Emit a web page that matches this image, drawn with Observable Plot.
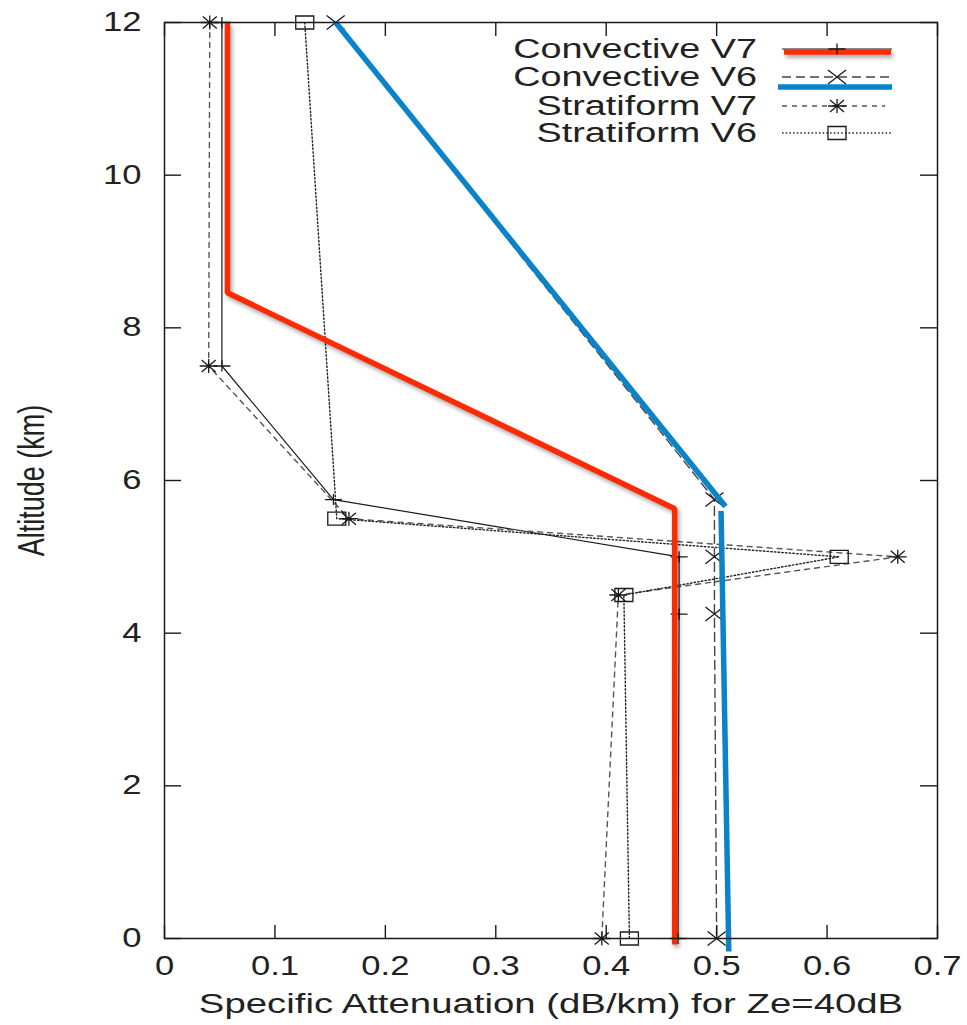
<!DOCTYPE html>
<html><head><meta charset="utf-8">
<script src="https://cdn.jsdelivr.net/npm/d3@7"></script>
<script src="https://cdn.jsdelivr.net/npm/@observablehq/plot@0.6"></script>
<style>body{margin:0;background:#fff}</style>
</head><body><div id="chart"></div>
<script>
// ---- data ----
const seriesNames = ["Convective V7", "Convective V6", "Stratiform V7", "Stratiform V6"];
const convV7Alt = [12, 7.5, 5.75, 5.0, 4.25, 0];
const convV7Att = [0.052, 0.052, 0.153, 0.466, 0.466, 0.465];
const convV6Alt = [12, 5.75, 5.0, 4.25, 0];
const convV6Att = [0.155, 0.498, 0.498, 0.498, 0.500];
const stratV7Alt = [12, 7.5, 5.5, 5.0, 4.5, 0];
const stratV7Att = [0.041, 0.040, 0.167, 0.664, 0.411, 0.396];
const stratV6Alt = [12, 5.5, 5.0, 4.5, 0];
const stratV6Att = [0.127, 0.156, 0.611, 0.416, 0.421];
// hand-drawn highlight overlays
const redAlt = [12, 8.46, 5.63, -0.08];
const redAtt = [0.057, 0.057, 0.462, 0.462];
const blueSeg = [0, 0, 1, 1];
const blueAlt = [12, 5.66, 5.6, -0.17];
const blueAtt = [0.155, 0.508, 0.504, 0.511];
const xTicks = [0, 0.1, 0.2, 0.3, 0.4, 0.5, 0.6, 0.7];
const yTicks = [0, 2, 4, 6, 8, 10, 12];
const xLabel = "Specific Attenuation (dB/km) for Ze=40dB";
const yLabel = "Altitude (km)";

// ---- styles ----
const RED = "#fd2b03", BLUE = "#0a83c9", INK = "#1a1a1a";
const sym = f => ({draw(c) { f(c); }});
const plusSym = sym(c => { c.moveTo(-8.5, 0); c.lineTo(8.5, 0); c.moveTo(0, -5.5); c.lineTo(0, 5.5); });
const timesSym = sym(c => { c.moveTo(-9, -7); c.lineTo(9, 7); c.moveTo(-9, 7); c.lineTo(9, -7); });
const starSym = sym(c => { c.moveTo(-9, 0); c.lineTo(9, 0); c.moveTo(0, -7); c.lineTo(0, 7);
  c.moveTo(-7, -6); c.lineTo(7, 6); c.moveTo(-7, 6); c.lineTo(7, -6); });
const squareSym = sym(c => { c.rect(-9, -6.5, 18, 13); });
const styles = [
  {stroke: INK, dash: null, width: 1.2, symbol: plusSym},
  {stroke: "#444", dash: "9,5", width: 1.4, symbol: timesSym},
  {stroke: "#555", dash: "5,5", width: 1.4, symbol: starSym},
  {stroke: "#222", dash: "1.5,2.2", width: 1.4, symbol: squareSym}
];
const rows = (att, alt) => att.map((a, i) => ({att: a, alt: alt[i]}));
const series = [rows(convV7Att, convV7Alt), rows(convV6Att, convV6Alt), rows(stratV7Att, stratV7Alt), rows(stratV6Att, stratV6Alt)];
const redRows = rows(redAtt, redAlt);
const blueRows = blueAtt.map((a, i) => ({att: a, alt: blueAlt[i], seg: blueSeg[i]}));
const fmt = d => String(+d.toFixed(1));

const marks = [];
series.forEach((d, i) => {
  const s = styles[i];
  marks.push(Plot.line(d, {x: "att", y: "alt", stroke: s.stroke, strokeWidth: s.width, strokeDasharray: s.dash}));
});
series.forEach((d, i) => {
  const s = styles[i];
  marks.push(Plot.dot(d, {x: "att", y: "alt", symbol: s.symbol, stroke: INK, fill: "none", strokeWidth: 1.3}));
});
marks.push(Plot.line(blueRows, {x: "att", y: "alt", z: "seg", stroke: BLUE, strokeWidth: 5.5, strokeLinejoin: "miter", strokeLinecap: "butt"}));
marks.push(Plot.line(redRows, {x: "att", y: "alt", stroke: RED, strokeWidth: 5.5, strokeLinejoin: "miter", strokeLinecap: "butt", ariaDescription: "red-overlay"}));
marks.push(Plot.frame({stroke: INK, strokeWidth: 1.5}));
// inward (mirrored) ticks
marks.push(Plot.axisX({ticks: xTicks, anchor: "bottom", tickSize: 13, dy: -13, fill: "none", stroke: INK, strokeWidth: 1.4}));
marks.push(Plot.axisX({ticks: xTicks, anchor: "top", tickSize: 13, dy: 13, fill: "none", stroke: INK, strokeWidth: 1.4}));
marks.push(Plot.axisY({ticks: yTicks, anchor: "left", tickSize: 17, dx: 17, fill: "none", stroke: INK, strokeWidth: 1.4}));
marks.push(Plot.axisY({ticks: yTicks, anchor: "right", tickSize: 18, dx: -18, fill: "none", stroke: INK, strokeWidth: 1.4}));
// tick labels
marks.push(Plot.axisX({ticks: xTicks, anchor: "bottom", tickSize: 0, tickPadding: 17, tickFormat: fmt, label: null, fill: "#222"}));
marks.push(Plot.axisY({ticks: yTicks, anchor: "left", tickSize: 0, tickPadding: 23, tickFormat: fmt, label: null, fill: "#222"}));
marks.push(Plot.text([xLabel], {frameAnchor: "bottom", dy: 66, lineAnchor: "middle", textAnchor: "middle", text: d => d, fill: "#222"}));
marks.push(Plot.text([yLabel], {frameAnchor: "left", dx: -132, rotate: -90, lineAnchor: "middle", textAnchor: "middle", text: d => d, fill: "#222"}));

const chart = Plot.plot({
  width: 967, height: 1025,
  marginLeft: 164, marginRight: 30, marginTop: 22, marginBottom: 87,
  x: {domain: [0, 0.7], label: null},
  y: {domain: [0, 12], label: null},
  style: {fontFamily: "'Liberation Sans', Arial, sans-serif", fontSize: "27px", background: "#fff", color: INK},
  marks
});
document.getElementById("chart").appendChild(chart);

// ---- legend (inside frame, top-right) ----
const svg = d3.select(chart);
const lg = svg.append("g").attr("font-family", "'Liberation Sans', Arial, sans-serif").attr("font-size", 27).attr("fill", "#222");
const rowY = [49, 77, 106, 133];
seriesNames.forEach((name, i) => {
  const y = rowY[i], s = styles[i];
  lg.append("text").attr("x", 757).attr("y", y).attr("dy", "0.35em").attr("text-anchor", "end").text(name);
  lg.append("line").attr("x1", 782).attr("x2", i === 2 ? 885 : 892).attr("y1", y).attr("y2", y)
    .attr("stroke", s.stroke).attr("stroke-width", s.width).attr("stroke-dasharray", s.dash);
  if (i === 0) lg.append("line").attr("x1", 784).attr("x2", 891).attr("y1", y + 3).attr("y2", y + 3)
    .attr("stroke", RED).attr("stroke-width", 5.5).style("filter", "drop-shadow(2px 3px 2px rgba(0,0,0,0.35))");
  if (i === 1) lg.append("line").attr("x1", 778).attr("x2", 892).attr("y1", y + 10).attr("y2", y + 10)
    .attr("stroke", BLUE).attr("stroke-width", 5.5);
  lg.append("path").attr("transform", `translate(837,${y})`).attr("d", d3.symbol(s.symbol)())
    .attr("fill", "none").attr("stroke", INK).attr("stroke-width", 1.3);
});

// red overlay shadow
svg.selectAll("g[aria-description='red-overlay'] path").style("filter", "drop-shadow(2px 3px 2px rgba(0,0,0,0.35))");

// horizontal stretch of the text, as in the reference
svg.selectAll("text").each(function() {
  const t = this.textContent;
  if (t === yLabel) {
    const tr = this.getAttribute("transform") || "";
    this.setAttribute("transform", tr + " scale(1,1.35)");
    return;
  }
  const len = this.getComputedTextLength();
  const f = (t === xLabel) ? 1.42 : seriesNames.includes(t) ? 1.4 : 1.28;
  this.setAttribute("textLength", len * f);
  this.setAttribute("lengthAdjust", "spacingAndGlyphs");
});
</script>
</body></html>
